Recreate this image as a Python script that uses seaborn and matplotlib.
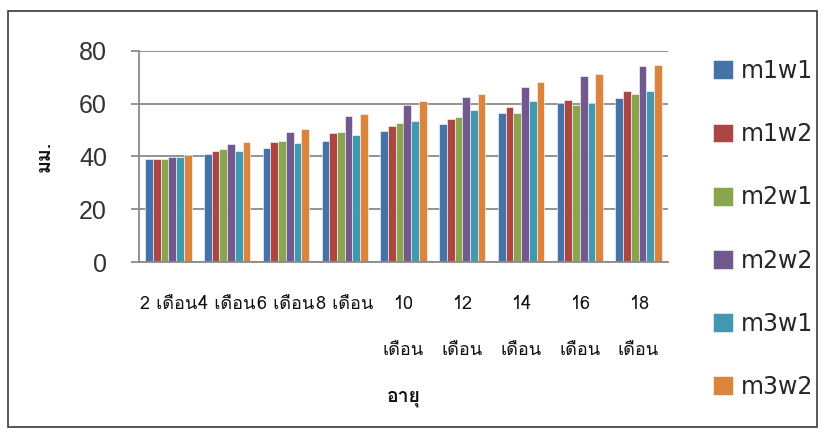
import matplotlib
matplotlib.use("Agg")
import matplotlib.pyplot as plt
from matplotlib import font_manager
from matplotlib.ft2font import FT2Font
from matplotlib.patches import Rectangle
import numpy as np
import pandas as pd
import seaborn as sns

# Ages (x categories) and measured sizes (mm) for each treatment group
ages = ["2 เดือน", "4 เดือน", "6 เดือน", "8 เดือน",
        "10\nเดือน", "12\nเดือน", "14\nเดือน", "16\nเดือน", "18\nเดือน"]
m1w1 = [38.9, 41.1, 43.4, 46.0, 49.6, 52.2, 56.6, 60.4, 62.2]
m1w2 = [38.9, 42.1, 45.4, 48.8, 51.7, 54.4, 58.9, 61.6, 65.0]
m2w1 = [38.9, 42.9, 46.0, 49.3, 52.8, 55.0, 56.6, 59.4, 63.8]
m2w2 = [39.9, 44.9, 49.4, 55.4, 59.4, 62.7, 66.5, 70.4, 74.3]
m3w1 = [39.9, 42.1, 45.0, 48.1, 53.3, 57.8, 61.0, 60.4, 65.0]
m3w2 = [40.6, 45.4, 50.5, 56.3, 60.9, 63.8, 68.1, 71.4, 74.8]
series_names = ["m1w1", "m1w2", "m2w1", "m2w2", "m3w1", "m3w2"]
series_values = [m1w1, m1w2, m2w1, m2w2, m3w1, m3w2]
colors = ["#4572A7", "#AA4643", "#89A54E", "#71588F", "#4198AF", "#DB843D"]
y_ticks = [0, 20, 40, 60, 80]

df = pd.DataFrame({
    "age": np.repeat([ages], len(series_names), axis=0).ravel(),
    "group": np.repeat(series_names, len(ages)),
    "value": np.concatenate(series_values),
})


def find_thai_font():
    """Return the name of an installed font that has Thai glyphs."""
    needed = [0x0E40, 0x0E14, 0x0E37, 0x0E2D, 0x0E19]
    best = None
    for entry in font_manager.fontManager.ttflist:
        try:
            cmap = FT2Font(entry.fname).get_charmap()
        except Exception:
            continue
        if all(c in cmap for c in needed):
            if entry.weight in (400, "normal", "regular") and entry.style == "normal":
                return entry.name
            best = best or entry.name
    return best


sns.set_theme(style="white")
thai = find_thai_font()
families = ([thai] if thai else []) + ["DejaVu Sans"]
plt.rcParams["font.family"] = families

fig = plt.figure(figsize=(8.27, 4.44), dpi=100)
W, H = 827, 444
ax = fig.add_axes([139 / W, 1 - 262 / H, (668 - 139) / W, (262 - 51) / H])

sns.barplot(data=df, x="age", y="value", hue="group", order=ages,
            hue_order=series_names, palette=colors, width=0.79,
            saturation=1, edgecolor="#ffffff", linewidth=0.4, ax=ax)

ax.set_ylim(0, 80)
ax.set_yticks(y_ticks)
ax.set_yticklabels([str(t) for t in y_ticks])
ax.set_xlim(-0.5, len(ages) - 0.5)

grid_c = "#8a8a8a"
ax.yaxis.grid(True, color=grid_c, linewidth=1.3)
ax.set_axisbelow(True)
for side in ("top", "right"):
    ax.spines[side].set_visible(False)
for side in ("left", "bottom"):
    ax.spines[side].set_color(grid_c)
    ax.spines[side].set_linewidth(1.3)

ax.tick_params(axis="y", which="major", left=True, length=6, width=1.3,
               color=grid_c, pad=17, labelsize=18, labelcolor="#333333")
ax.tick_params(axis="x", which="major", bottom=False, length=0, pad=24,
               labelsize=13, labelcolor="#111111")
for lbl in ax.get_yticklabels():
    lbl.set_family(["Liberation Sans", "DejaVu Sans"])
for lbl in ax.get_xticklabels():
    lbl.set_linespacing(3.0)

ax.set_xlabel("อายุ", fontsize=14, fontweight="bold", color="#111111")
ax.xaxis.set_label_coords(0.5, -0.6)
ax.set_ylabel("มม.", fontsize=14, fontweight="bold", color="#111111")
ax.yaxis.set_label_coords(-0.162, 0.5)

handles, labels = ax.get_legend_handles_labels()
ax.legend(handles, labels, loc="center left",
          bbox_to_anchor=(713 / W, 1 - 229 / H), bbox_transform=fig.transFigure,
          frameon=False, handlelength=0.85, handleheight=0.85,
          handletextpad=0.35, labelspacing=1.66, borderpad=0, borderaxespad=0,
          prop={"family": ["DejaVu Sans"], "size": 17})

# outer chart frame
fig.patches.append(Rectangle((8 / W, 1 - 427 / H), (817 - 8) / W, (427 - 11) / H,
                             transform=fig.transFigure, fill=False,
                             edgecolor="#3a3a3a", linewidth=1.2))

fig.savefig("out.png", dpi=100)
